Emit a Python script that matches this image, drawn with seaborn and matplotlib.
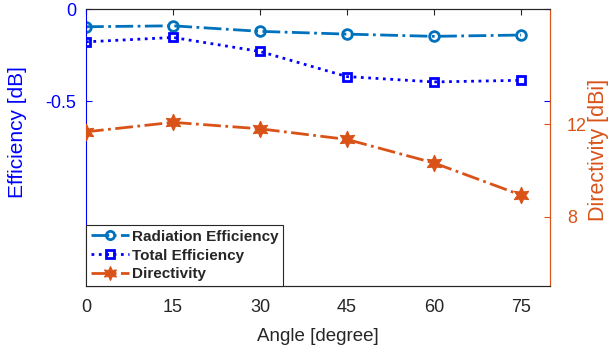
import numpy as np
import pandas as pd
import matplotlib
matplotlib.use('Agg')
import matplotlib.pyplot as plt
import seaborn as sns

# dane
katy = [0, 15, 30, 45, 60, 75]
rad_eff = [-0.096, -0.091, -0.121, -0.136, -0.148, -0.141]
tot_eff = [-0.178, -0.154, -0.230, -0.366, -0.395, -0.386]
directivity = [11.68, 12.09, 11.81, 11.35, 10.33, 8.94]

df = pd.DataFrame({'Angle': katy, 'Rad': rad_eff, 'Tot': tot_eff, 'Dir': directivity})

sns.set_style('white')
plt.rcParams['font.family'] = ['Liberation Sans', 'DejaVu Sans']

c_rad = '#0072BD'
c_tot = '#0000FF'
c_dir = '#D95319'
c_gray = '#262626'
fs = 13

fig = plt.figure(figsize=(6.16, 3.56), dpi=100)
ax1 = fig.add_axes([0.1396, 0.1966, 0.7534, 0.7781])
ax2 = ax1.twinx()

hexagram = (6, 1, 0)

sns.lineplot(data=df, x='Angle', y='Rad', ax=ax1, color=c_rad, linestyle='-.',
             linewidth=2, marker='o', markersize=7, markerfacecolor='none',
             markeredgecolor=c_rad, markeredgewidth=2, label='Radiation Efficiency', legend=False)
sns.lineplot(data=df, x='Angle', y='Tot', ax=ax1, color=c_tot, linestyle=':',
             linewidth=2, marker='s', markersize=6, markerfacecolor='none',
             markeredgecolor=c_tot, markeredgewidth=2, label='Total Efficiency', legend=False)
sns.lineplot(data=df, x='Angle', y='Dir', ax=ax2, color=c_dir, linestyle='-.',
             linewidth=2, marker=hexagram, markersize=12, markerfacecolor=c_dir,
             markeredgecolor=c_dir, label='Directivity', legend=False)

ax1.set_xlim(0, 80)
ax1.set_ylim(-1.5, 0)
ax2.set_ylim(5, 17)
ax1.set_xticks(katy)
ax1.set_yticks([-0.5, 0])
ax1.set_yticklabels(['-0.5', '0'])
ax2.set_yticks([8, 12])

ax1.set_xlabel('Angle [degree]', fontsize=13.5, color=c_gray, labelpad=9)
ax1.set_ylabel('Efficiency [dB]', fontsize=15, color='blue')
ax2.set_ylabel('Directivity [dBi]', fontsize=15.5, color=c_dir)
ax1.yaxis.set_label_coords(-0.128, 0.555)
ax2.yaxis.set_label_coords(1.081, 0.49)

ax1.tick_params(axis='x', direction='in', top=True, labelsize=fs, colors=c_gray, length=4, pad=9)
ax1.tick_params(axis='y', direction='in', right=True, labelsize=fs, colors='blue', length=4, pad=7)
ax2.tick_params(axis='y', direction='in', labelsize=fs, colors=c_dir, length=4, pad=12)

for ax in (ax1, ax2):
    ax.spines['top'].set_color(c_gray)
    ax.spines['bottom'].set_color(c_gray)
    ax.spines['left'].set_color('blue')
    ax.spines['right'].set_color(c_dir)
    for s in ax.spines.values():
        s.set_linewidth(0.8)
ax2.spines['left'].set_visible(False)

h1, l1 = ax1.get_legend_handles_labels()
h2, l2 = ax2.get_legend_handles_labels()
leg = ax2.legend(h1 + h2, l1 + l2, loc='lower left', bbox_to_anchor=(0, 0),
                 prop={'weight': 'bold', 'size': 11}, fancybox=False,
                 edgecolor=c_gray, framealpha=1, borderaxespad=0,
                 handlelength=2.5, handletextpad=0.2, labelspacing=0.32,
                 borderpad=0.3, markerscale=0.85)
leg.get_frame().set_linewidth(0.8)

plt.savefig('out.png', dpi=100)
